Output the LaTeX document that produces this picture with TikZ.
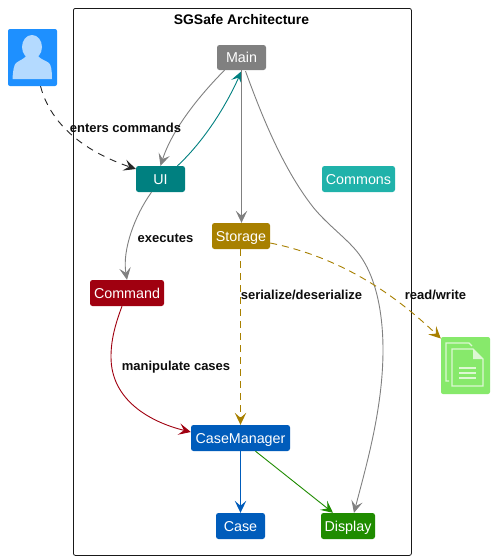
\documentclass[tikz,border=0pt]{standalone}
\usepackage{fontspec}
\setmainfont{Liberation Sans}
\usetikzlibrary{arrows.meta,positioning}
\definecolor{cMain}{HTML}{808080}
\definecolor{cUI}{HTML}{008080}
\definecolor{cCommons}{HTML}{20B2AA}
\definecolor{cStorage}{HTML}{A88000}
\definecolor{cCommand}{HTML}{A00010}
\definecolor{cCase}{HTML}{005CBB}
\definecolor{cDisplay}{HTML}{1F8C00}
\definecolor{cActor}{HTML}{1E90FF}
\definecolor{cActorLight}{HTML}{B4DAFF}
\definecolor{cFile}{HTML}{87E96B}
\definecolor{cFileLight}{HTML}{DDF8D3}
\tikzset{
  x=1pt,y=-1pt,
  box/.style={fill=#1,text=white,rounded corners=2.5pt,inner sep=0pt,text height=11pt,text depth=0.4pt,font=\fontsize{14.3}{16}\selectfont,anchor=center},
  lab/.style={font=\fontsize{13}{15}\selectfont\bfseries,inner sep=0pt,anchor=center,text=black!95},
  tip/.style={-{Stealth[length=12pt,width=11.5pt,inset=5pt]}},
  conn/.style={tip,line width=0.9pt,draw=#1,fill=none},
}
\begin{document}
\begin{tikzpicture}
\useasboundingbox (0,0) rectangle (495,560);
\fill[white] (0,0) rectangle (495,560);
% frame
\node[draw=black!90,line width=0.8pt,rounded corners=2pt,minimum width=338pt,minimum height=547pt,inner sep=0pt,anchor=north west] (frame) at (73,8) {};
\node[font=\fontsize{13.9}{15}\selectfont\bfseries,inner sep=0pt] (title) at (241.5,20) {SGSafe Architecture};
% boxes
\node[box=cMain,minimum width=49pt,minimum height=25pt] (main) at (241.5,57.5) {Main};
\node[box=cUI,minimum width=49pt,minimum height=26pt] (ui) at (160.5,179) {UI};
\node[box=cCommons,minimum width=73pt,minimum height=26pt] (commons) at (358.5,179) {Commons};
\node[box=cStorage,minimum width=58pt,minimum height=26pt] (storage) at (241,236) {Storage};
\node[box=cCommand,minimum width=74pt,minimum height=26pt] (command) at (127,293) {Command};
\node[box=cCase,minimum width=99pt,minimum height=26pt] (casemanager) at (240.5,438) {CaseManager};
\node[box=cCase,minimum width=49pt,minimum height=26pt] (case) at (240.5,526) {Case};
\node[box=cDisplay,minimum width=54pt,minimum height=26pt] (display) at (348,526) {Display};
% actor
\node[fill=cActor,rounded corners=2pt,minimum width=49pt,minimum height=57pt,inner sep=0pt] (actor) at (32.5,57.5) {};
\fill[cActorLight] (32,47) ellipse (10 and 12);
\fill[cActorLight] (12.5,79) .. controls (13,70) and (14,65) .. (16,63) .. controls (20,60) and (24,59) .. (26,56) -- (38,56) .. controls (40,59) and (45,60) .. (49,63) .. controls (51,65) and (52,70) .. (52,79) -- cycle;
% file
\node[fill=cFile,rounded corners=2pt,minimum width=49pt,minimum height=57pt,inner sep=0pt] (file) at (465.5,365.5) {};
\draw[cFileLight,line width=1.2pt] (449,381) -- (446,381) -- (446,343) -- (469,343) -- (472,346);
\draw[cFileLight,line width=1.2pt] (452,349) -- (473,349) -- (483,359) -- (483,386) -- (452,386) -- cycle;
\fill[cFileLight] (473,349) -- (483,359) -- (473,359) -- cycle;
\draw[cFileLight,line width=1.2pt] (459,368) -- (476,368) (459,373) -- (476,373) (459,378) -- (476,378);
% connectors
\draw[conn=black!85,dash pattern=on 7pt off 6pt] ([xshift=8pt]actor.south) .. controls (48,115) and (72,147) .. ([yshift=10pt]ui.west);
\draw[conn=cMain] ([xshift=-17pt]main.south) .. controls (198,97) and (172,130) .. (ui.north);
\draw[conn=cUI] ([xshift=17pt]ui.north) .. controls (203,142) and (225,108) .. ([yshift=-1pt]main.south);
\draw[conn=cMain] (main.south) -- (storage.north -| main.south);
\draw[conn=cMain] ([xshift=4pt,yshift=-1pt]main.south) .. controls (258,105) and (280,165) .. (313,207)
  .. controls (325,222) and (342,235) .. (353,247)
  .. controls (375,270) and (383,310) .. (383,350)
  .. controls (383,410) and (365,470) .. ([xshift=6pt]display.north);
\draw[conn=cMain] ([xshift=-9pt]ui.south) .. controls (135,215) and (122,250) .. (command.north);
\draw[conn=cStorage,dash pattern=on 7pt off 5pt] ([yshift=-7pt]storage.east) .. controls (330,255) and (385,285) .. ([yshift=27pt]file.west);
\draw[conn=cStorage,dash pattern=on 7pt off 5pt] (storage.south -| casemanager.north) -- (casemanager.north);
\draw[conn=cCommand] ([xshift=-5pt]command.south) .. controls (115,325) and (111,340) .. (111,357)
  .. controls (111,400) and (150,422) .. ([yshift=6pt]casemanager.west);
\draw[conn=cCase] (casemanager.south) -- (case.north);
\draw[conn=cDisplay] ([xshift=15pt]casemanager.south) -- ([xshift=-15pt]display.north);
% labels
\node[lab] (l1) at (125.5,128) {enters commands};
\node[lab] (l2) at (165.5,238) {executes};
\node[lab] (l3) at (301.5,295) {serialize/deserialize};
\node[lab] (l4) at (435.5,295) {read/write};
\node[lab] (l5) at (176,367) {manipulate cases};
\end{tikzpicture}
\end{document}
